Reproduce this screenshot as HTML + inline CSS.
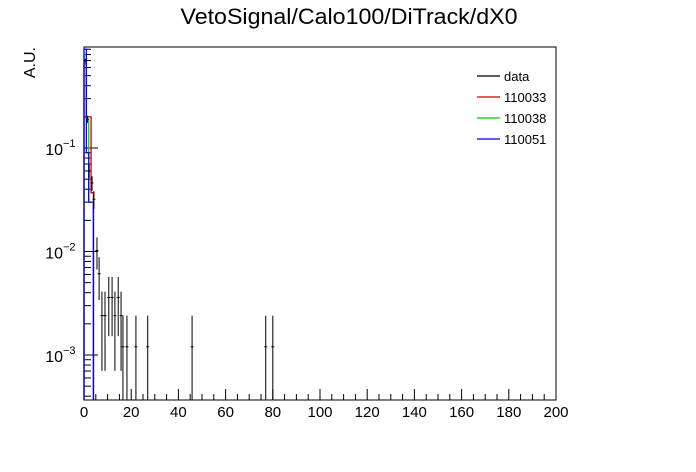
<!DOCTYPE html>
<html><head><meta charset="utf-8"><style>
body{margin:0;background:#fff;}
svg{display:block;font-family:"Liberation Sans",sans-serif;}
</style></head><body>
<svg id="c" width="696" height="472"></svg>
<script>
const dataX=[0.5,1.5,2.2,3.4,4.2,5.5,6.4,7.6,8.9,10.5,11.9,13.1,14.5,15.7,16.5,18.2,22,27,45.8,77,80];
const dataY=[0.7,0.19,0.06,0.046,0.032,0.0102,0.0061,0.0024,0.0024,0.0036,0.0036,0.0024,0.0036,0.0024,0.0012,0.0012,0.0012,0.0012,0.0012,0.0012,0.0012];
const binEdges=[0,1,2,3,4];
const s110033=[0.65,0.2,0.2,0.037];
const s110038=[0.8,0.19,0.03,0.03];
const s110051=[0.9,0.09,0.03,0.03];
const xTicks=[0,20,40,60,80,100,120,140,160,180,200];
const yTicks=[0.001,0.01,0.1];
const yTickLabels=["10","10","10"];
const yTickExp=["\u22123","\u22122","\u22121"];

const NS="http://www.w3.org/2000/svg";
const svg=document.getElementById('c');
const L=84,R=556,T=47,B=400;
const xs=v=>L+(v-0)/200*(R-L);
const ys=v=>{let p=148-(Math.log10(v)+1)*103.5;return Math.min(B,Math.max(T,p));};
function el(t,a,p){const e=document.createElementNS(NS,t);for(const k in a)e.setAttribute(k,a[k]);(p||svg).appendChild(e);return e;}

const title=el('text',{x:349,y:24,'text-anchor':'middle','font-size':22,textLength:337,lengthAdjust:'spacingAndGlyphs'});
title.textContent='VetoSignal/Calo100/DiTrack/dX0';



const frame=el('rect',{x:L,y:T,width:R-L,height:B-T,fill:'none',stroke:'#000'});



xTicks.forEach((v,i)=>{
  el('line',{x1:xs(v),x2:xs(v),y1:B,y2:B-11,stroke:'#000'});
  const t=el('text',{x:xs(v),y:417,'text-anchor':'middle','font-size':15});
  t.textContent=v;
  
  
  if(i<xTicks.length-1) for(let k=1;k<4;k++){const m=v+k*5;el('line',{x1:xs(m),x2:xs(m),y1:B,y2:B-6,stroke:'#000'});}
});
for(let d=-4;d<=0;d++){for(let k=1;k<10;k++){const v=k*Math.pow(10,d);const p=148-(Math.log10(v)+1)*103.5;if(p<T||p>B)continue;el('line',{x1:L,x2:L+(k==1?14:7),y1:p,y2:p,stroke:'#000'});}}
yTicks.forEach((v,i)=>{
  const t=el('text',{x:63,y:ys(v)+7,'text-anchor':'end','font-size':16});
  t.textContent=yTickLabels[i];
  
  
  const e=el('text',{x:63,y:ys(v)-1,'font-size':11});
  e.textContent=yTickExp[i];
  
  
});
const yt=el('text',{x:0,y:0,'font-size':16,'text-anchor':'end',transform:'translate(35,47) rotate(-90)'});
yt.textContent='A.U.';



function hist(vals,color,name){
  let d=`M${xs(binEdges[0])},${B}`;
  vals.forEach((v,i)=>{d+=` L${xs(binEdges[i])},${ys(v)} L${xs(binEdges[i+1])},${ys(v)}`;});
  d+=` L${xs(binEdges[vals.length])},${B}`;
  const p=el('path',{d:d,fill:'none',stroke:color,'stroke-width':1.3});
  
  
}
hist(s110038,'#00dd00','series-110038');
hist(s110033,'#dd0000','series-110033');
hist(s110051,'#0000ff','series-110051');

dataX.forEach((x,i)=>{
  const v=dataY[i];const n=v/0.0012;const e=v/Math.sqrt(Math.max(n,1));
  const g=el('g',{stroke:'#000','stroke-width':1});
  
  
  const lo=v-e>0?ys(v-e):B;
  el('line',{x1:xs(x),x2:xs(x),y1:ys(v+e),y2:lo},g);
  el('line',{x1:xs(x)-1.5,x2:xs(x)+1.5,y1:ys(v),y2:ys(v)},g);
});

const legend=[['data','#000'],['110033','#cc0000'],['110038','#00cc00'],['110051','#0000ee']];
legend.forEach((l,i)=>{
  const y=76+i*21;
  const g=el('g',{});
  
  
  el('line',{x1:477,x2:500,y1:y,y2:y,stroke:l[1],'stroke-width':1.2},g);
  const t=el('text',{x:504,y:y+5,'font-size':13},g);t.textContent=l[0];
});
</script>
</body></html>
